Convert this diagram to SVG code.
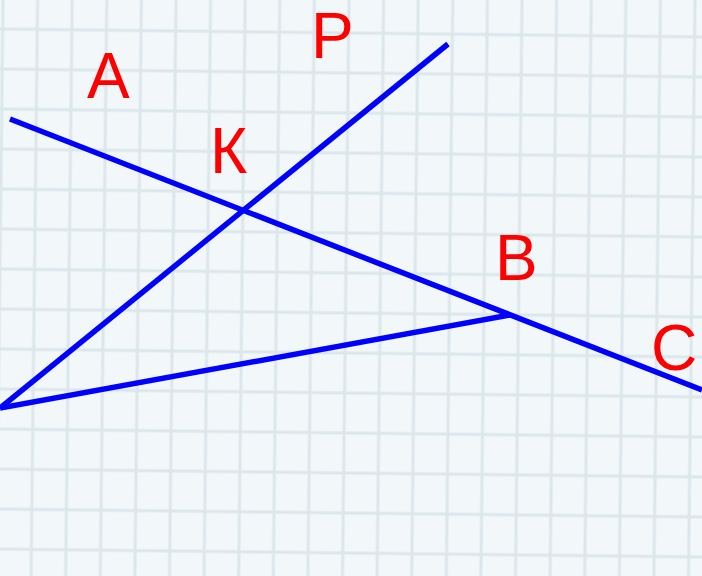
<svg xmlns="http://www.w3.org/2000/svg" width="702" height="576" viewBox="0 0 702 576">
  <style>
    .seg { stroke: #0000ff; stroke-width: 5.5; stroke-linecap: butt; fill: none; }
    .lbl { font-family: "Liberation Sans", Arial, sans-serif; font-size: 64px; fill: #ff0000; }
  </style>
  <defs>
    <pattern id="grid" patternUnits="userSpaceOnUse" width="34.6" height="40" patternTransform="rotate(0.65)">
      <rect width="34.6" height="40" fill="#f2f7fa"/>
      <line x1="3" y1="0" x2="3" y2="40" stroke="#dce7eb" stroke-width="3"/>
      <line x1="0" y1="29" x2="34.6" y2="29" stroke="#dce7eb" stroke-width="3"/>
    </pattern>
  </defs>
  <rect x="0" y="0" width="702" height="576" fill="url(#grid)"/>
  <g id="connectors">
    <line class="seg" x1="10" y1="119" x2="702" y2="390"/>
    <line class="seg" x1="0" y1="408" x2="448" y2="44"/>
    <line class="seg" x1="0" y1="408" x2="510" y2="315"/>
  </g>
  <g id="A"><text class="lbl" x="87" y="98">А</text></g>
  <g id="P"><text class="lbl" x="311" y="58">Р</text></g>
  <g id="K"><text class="lbl" x="210" y="173">К</text></g>
  <g id="B"><text class="lbl" x="495" y="280">В</text></g>
  <g id="C"><text class="lbl" x="651" y="370">С</text></g>
</svg>
